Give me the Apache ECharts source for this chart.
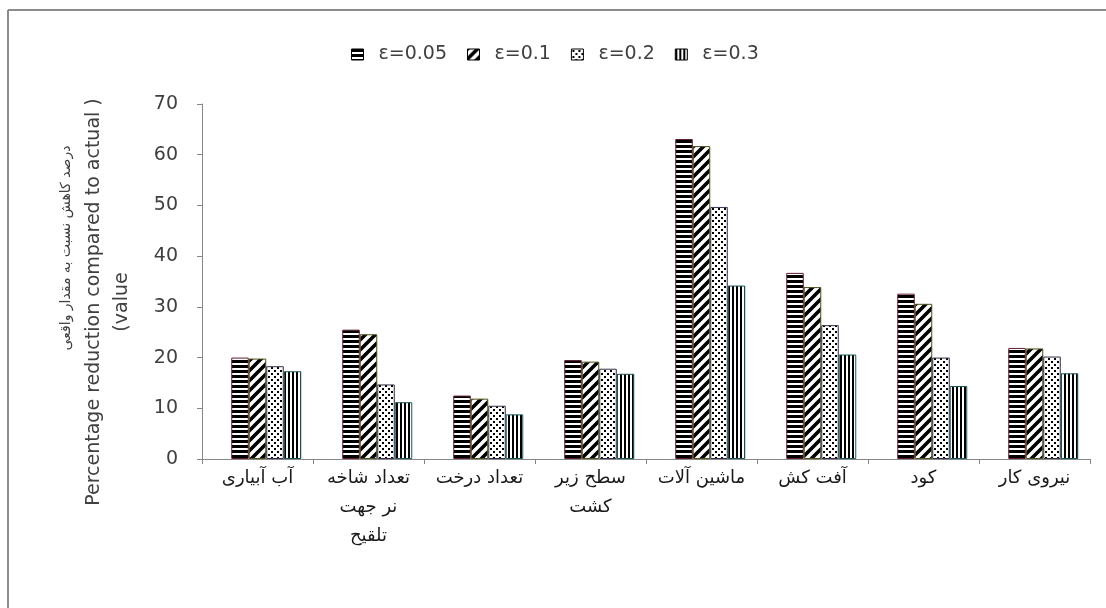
<!DOCTYPE html>
<html>
<head>
<meta charset="utf-8">
<script src="https://cdn.jsdelivr.net/npm/echarts@6/dist/echarts.min.js"></script>
<style>
  html, body { margin: 0; padding: 0; background: #ffffff; }
  #chart { width: 1106px; height: 608px; }
</style>
</head>
<body>
<div id="chart"></div>
<script>
// Categories (inputs of the production model) and reduction percentages per epsilon level
const categories = [
  'آب آبیاری',
  'تعداد شاخه\nنر جهت\nتلقیح',
  'تعداد درخت',
  'سطح زیر\nکشت',
  'ماشین آلات',
  'آفت کش',
  'کود',
  'نیروی کار'
];
const seriesNames = ['ε=0.05', 'ε=0.1', 'ε=0.2', 'ε=0.3'];
const eps005 = [20.0, 25.5, 12.5, 19.5, 63.1, 36.7, 32.6, 21.9];
const eps01  = [19.8, 24.6, 11.9, 19.2, 61.7, 33.9, 30.6, 21.8];
const eps02  = [18.3, 14.7, 10.5, 17.8, 49.7, 26.4, 20.0, 20.2];
const eps03  = [17.3, 11.2,  8.8, 16.8, 34.2, 20.6, 14.4, 16.9];
const yTicks = { min: 0, max: 70, step: 10 };

const FONT = 'DejaVu Sans';

// Monochrome hatch fills
function makePattern(w, h, draw) {
  const c = document.createElement('canvas');
  c.width = w; c.height = h;
  const ctx = c.getContext('2d');
  ctx.fillStyle = '#ffffff';
  ctx.fillRect(0, 0, w, h);
  ctx.fillStyle = '#000000';
  ctx.strokeStyle = '#000000';
  draw(ctx, w, h);
  return { image: c, repeat: 'repeat' };
}
const hStripes = makePattern(6, 5, (ctx, w) => { ctx.fillRect(0, 0, w, 3); });
const diagStripes = makePattern(10, 10, (ctx) => {
  ctx.lineWidth = 3.6;
  ctx.beginPath();
  ctx.moveTo(-2, 12); ctx.lineTo(12, -2);
  ctx.moveTo(-7, 7); ctx.lineTo(7, -7);
  ctx.moveTo(3, 17); ctx.lineTo(17, 3);
  ctx.stroke();
});
const dots = makePattern(6, 6, (ctx) => {
  ctx.fillRect(1, 1, 2, 2);
  ctx.fillRect(4, 4, 2, 2);
});
const vStripes = makePattern(4, 4, (ctx, w, h) => { ctx.fillRect(0, 0, 2, h); });

const fills = [hStripes, diagStripes, dots, vStripes];
const edges = ['#5e1a2c', '#4e4e1a', '#383048', '#1a5656'];
const values = [eps005, eps01, eps02, eps03];

const BAR_W = 17.5;

const series = [
  // empty leading slot: keeps each group of four bars offset inside its category
  { name: 'slot', type: 'bar', data: [], barWidth: BAR_W, barGap: '0%', silent: true }
].concat(seriesNames.map((name, i) => ({
  name: name,
  type: 'bar',
  data: values[i],
  barWidth: BAR_W,
  barGap: '0%',
  itemStyle: { color: fills[i], borderColor: edges[i], borderWidth: 1 },
  emphasis: { disabled: true }
})));

const chart = echarts.init(document.getElementById('chart'), null, { renderer: 'canvas' });
chart.setOption({
  animation: false,
  backgroundColor: '#ffffff',
  grid: { left: 202, right: 16, top: 104, bottom: 149, containLabel: false },
  legend: {
    data: seriesNames,
    left: 346,
    top: 40,
    itemWidth: 12,
    itemHeight: 11,
    itemGap: 20,
    icon: 'rect',
    formatter: '{t|{name}}',
    textStyle: {
      fontFamily: FONT,
      fontSize: 19,
      color: '#404040',
      rich: { t: { fontFamily: FONT, fontSize: 19, color: '#404040', padding: [0, 0, 0, 10] } }
    },
    itemStyle: { borderColor: '#000', borderWidth: 1 }
  },
  xAxis: {
    type: 'category',
    data: categories,
    axisLine: { lineStyle: { color: '#868686', width: 1 } },
    axisTick: { show: true, alignWithLabel: false, length: 5, lineStyle: { color: '#868686' } },
    axisLabel: {
      interval: 0,
      margin: 5,
      fontFamily: FONT,
      fontSize: 18,
      lineHeight: 29,
      color: '#1a1a1a'
    },
    splitLine: { show: false }
  },
  yAxis: {
    type: 'value',
    min: yTicks.min,
    max: yTicks.max,
    interval: yTicks.step,
    axisLine: { show: true, lineStyle: { color: '#868686', width: 1 } },
    axisTick: { show: true, length: 5, lineStyle: { color: '#868686' } },
    axisLabel: { margin: 24, fontFamily: FONT, fontSize: 19, color: '#404040' },
    splitLine: { show: false }
  },
  graphic: [
    // outer frame (top and left edges)
    { type: 'line', shape: { x1: 8, y1: 10, x2: 1106, y2: 10 }, style: { stroke: '#8c8c8c', lineWidth: 2 } },
    { type: 'line', shape: { x1: 8, y1: 10, x2: 8, y2: 608 }, style: { stroke: '#8c8c8c', lineWidth: 2 } },
    // vertical axis title
    {
      type: 'text', x: 66, y: 248, rotation: Math.PI / 2,
      style: { text: 'درصد کاهش نسبت به مقدار واقعی', fontFamily: FONT, fontSize: 14, fill: '#404040', align: 'center', verticalAlign: 'middle' }
    },
    {
      type: 'text', x: 94, y: 302, rotation: Math.PI / 2,
      style: { text: 'Percentage reduction compared to actual )', fontFamily: FONT, fontSize: 19, fill: '#404040', align: 'center', verticalAlign: 'middle' }
    },
    {
      type: 'text', x: 122, y: 302, rotation: Math.PI / 2,
      style: { text: '(value', fontFamily: FONT, fontSize: 19, fill: '#404040', align: 'center', verticalAlign: 'middle' }
    }
  ],
  series: series
});
</script>
</body>
</html>
